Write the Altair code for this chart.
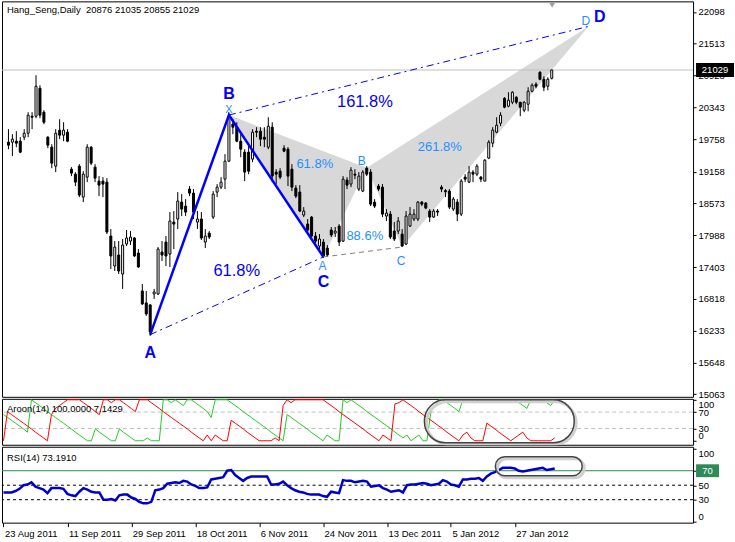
import altair as alt
import pandas as pd
import numpy as np

# ---------------- data ----------------
date_ticks = [0, 16, 32, 48, 64, 80, 96, 112, 128]
date_labels = ["23 Aug 2011", "11 Sep 2011", "29 Sep 2011", "18 Oct 2011", "6 Nov 2011",
               "24 Nov 2011", "13 Dec 2011", "5 Jan 2012", "27 Jan 2012"]
price_ticks = [15063, 15648, 16233, 16818, 17403, 17988, 18573, 19158, 19758,
               20343, 20928, 21513, 22098]
aroon_ticks = [0, 30, 70, 100]
rsi_ticks = [0, 30, 50, 70, 100]
last_price = 21029

opens = [19701,19701,19719,19719,19793,19866,20179,20179,20693,20252,
         19793,19609,19260,19922,19830,19885,19205,19113,19260,18691,
         19058,19609,19242,18985,18985,18966,17974,17423,17625,17276,
         17827,17882,17938,17662,16964,16744,16707,16909,16909,17680,
         17864,17644,18231,18287,18599,18525,18838,18764,18231,18287,
         17864,18029,18323,18783,18874,19021,19352,20032,19977,19719,
         19517,19517,19389,19903,19903,19793,19609,19977,19150,19168,
         19591,19572,19205,18856,18783,18360,18195,18323,17974,17791,
         17864,17753,18085,18029,18158,17882,19003,18930,19113,18838,
         18801,19223,19150,18599,18893,18874,18342,18378,18066,18066,
         18011,17827,18158,18287,18287,18599,18581,18434,18323,18434,
         18874,18810,18801,18470,18599,18378,19058,18966,19150,19113,
         19058,18985,19407,19683,19885,20050,20509,20362,20436,20528,
         20436,20289,20399,20638,20767,20987,20858,20730,20876]
highs = [19940,19848,19903,19793,19940,20252,20252,20932,20748,20289,
         19811,19664,19940,20124,20068,19940,19242,19150,19297,19168,
         19664,19628,19297,19077,19058,19040,18103,17882,17882,17919,
         18085,18066,17956,17735,17093,16964,16725,17001,17772,17882,
         17974,18415,18434,18783,18746,18654,18893,18838,18434,18415,
         18103,18066,18801,18930,19058,19481,20252,20124,20068,19848,
         19572,19628,19940,19977,19977,19977,20160,20068,19205,19223,
         19646,19609,19297,18911,18911,18507,18287,18342,18048,18011,
         17919,17809,18140,18140,18195,19077,19058,19242,19205,19150,
         19187,19260,19205,18654,18930,18930,18470,18434,18231,18323,
         18103,18434,18507,18470,18617,18617,18599,18470,18470,18470,
         18911,18838,18838,18691,18654,19021,19113,19260,19187,19297,
         19077,19389,19738,19977,20160,20252,20528,20620,20638,20546,
         20436,20455,20711,20785,20803,21005,20913,20895,21035]
lows = [19572,19444,19609,19499,19738,19793,19940,20142,20142,20032,
        19591,19223,19150,19756,19719,19701,19077,18893,18691,18599,
        18966,19279,18966,18709,18691,18011,17368,17331,17276,17001,
        17791,17809,17589,17390,16707,16505,16137,16817,16891,17515,
        17423,17405,17735,18103,18342,18342,18709,18287,18103,17901,
        17753,17919,18287,18691,18838,18838,19334,19848,19701,19425,
        18985,19113,19334,19793,19628,19609,19572,18966,18930,19021,
        19517,18893,18801,18672,18415,18323,18048,17956,17846,17735,
        17570,17589,17956,17956,17791,17864,18838,18874,19021,18801,
        18783,19077,18525,18489,18801,18323,18250,17919,17882,18011,
        17772,17809,18140,18250,18250,18525,18470,18231,18305,18342,
        18783,18691,18470,18434,18250,18342,18966,18948,18966,19077,
        18966,18985,19389,19609,19866,19995,20325,20344,20399,20399,
        20179,20252,20270,20620,20693,20840,20638,20656,20855]
closes = [19646,19756,19683,19517,19866,20197,20160,20730,20197,20068,
          19646,19315,19866,19830,19922,19719,19132,18966,18728,19113,
          19609,19315,19040,18911,18930,18048,17607,17772,17331,17809,
          17938,17956,17607,17405,16725,16541,16211,16946,17735,17625,
          17607,18250,18195,18617,18470,18415,18764,18415,18287,17938,
          17974,17956,18746,18874,18966,19352,20179,19977,19719,19572,
          19150,19168,19885,19885,19756,19756,19995,19077,19113,19058,
          19536,19077,18874,18709,18434,18434,18085,17974,17882,17919,
          17607,17625,17993,18066,17864,19021,18911,19187,19095,19077,
          19150,19113,18562,18525,18838,18378,18397,17956,17919,18250,
          17791,18342,18378,18378,18599,18562,18489,18323,18434,18415,
          18838,18790,18507,18654,18378,18985,19021,19150,19113,19260,
          19021,19370,19701,19922,20013,20197,20344,20473,20620,20436,
          20344,20436,20638,20748,20730,20858,20711,20858,21029]

aroon_up = [64,57,50,43,36,29,21,100,93,86,
            79,71,64,57,50,43,36,29,21,14,
            7,0,0,29,21,14,7,0,0,29,
            21,14,7,0,0,0,7,0,0,0,
            100,100,93,100,93,86,100,100,93,86,
            79,71,57,100,100,100,100,93,86,79,
            71,64,57,50,43,36,29,21,14,7,
            0,64,57,50,43,36,29,21,14,7,
            0,14,7,0,0,100,93,100,93,86,
            79,71,64,57,50,43,36,29,21,14,
            7,14,0,7,14,0,0,71,86,100,
            100,93,86,79,71,100,100,100,93,100,
            100,100,100,100,100,100,100,100,100,93,
            86,79,100,100,100,100,93,86,100]
aroon_down = [0,71,64,57,50,43,36,29,21,14,
              7,0,64,79,86,93,100,100,100,100,
              93,86,79,71,64,100,100,93,100,100,
              93,86,79,71,100,100,100,93,86,79,
              71,64,57,50,43,36,29,21,14,7,
              0,14,0,14,7,0,0,50,43,36,
              29,21,14,7,0,0,0,0,7,0,
              86,100,93,100,100,100,100,100,100,100,
              100,93,86,79,71,64,57,50,43,36,
              29,21,14,7,0,14,7,0,90,93,
              100,93,86,79,71,64,57,50,43,36,
              29,21,14,7,0,14,21,7,0,0,
              0,43,36,29,21,14,7,0,7,14,
              21,7,0,0,0,0,0,0,7.1429]
rsi = [40,40,40,42,45,50,51,54,48,46,
       44,39,46,46,46,45,38,36,35,41,
       46,44,41,40,40,30,30,31,29,36,
       37,37,33,31,27,25,25,27,43,44,
       46,52,53,54,53,56,55,51,49,46,
       46,47,58,59,60,61,70,71,64,60,
       56,60,62,62,62,62,62,51,51,52,
       55,50,46,43,41,40,38,37,37,37,
       35,34,41,40,39,57,56,56,54,55,
       56,55,48,49,50,46,44,41,42,43,
       40,50,51,51,52,53,52,50,51,52,
       57,55,51,50,48,58,58,59,59,60,
       56,62,66,68,71,74,74,74,73,70,
       69,70,71,72,73,74,71,72,73.191]

# harmonic pattern points (bar index, price)
abcd_names = ["A", "B", "C", "D"]
abcd_bar = [36, 56, 80, 147.4]
abcd_price = [16160, 20200, 17590, 21832]
xabcd_names = ["X", "A", "B", "C", "D"]
xabcd_bar = [56, 80, 91, 100, 147.4]
xabcd_price = [20200, 17590, 19230, 17772, 21832]

# ---------------- styling ----------------
FONT = "Liberation Sans"
FS = 9.5
W = 692
XS = alt.Scale(domain=[-0.375, 172.625], nice=False, zero=False)
YS = alt.Scale(domain=[15016.7, 22291.3], nice=False, zero=False)
AS = alt.Scale(domain=[-9.76, 102.4], nice=False, zero=False)
RS = alt.Scale(domain=[-1.72, 103.1], nice=False, zero=False)
BLUE = "#0000ff"
LBLUE = "#1e90ff"


def xk(field="k"):
    return alt.X(f"{field}:Q", scale=XS, axis=None)


def yax(ticks, flush=False):
    kw = dict(orient="right", values=ticks, title=None, grid=False, domain=False,
              tickSize=3, labelPadding=2, labelFont=FONT, labelFontSize=FS,
              labelColor="black", tickColor="black", format="d", labelOverlap=False)
    if flush:
        kw["labelFlush"] = 5
    return alt.Axis(**kw)


PAX = yax(price_ticks)
AAX = yax(aroon_ticks, True)
RAX = yax(rsi_ticks, True)


def ym(field):
    return alt.Y(f"{field}:Q", scale=YS, axis=PAX, stack=None)


# ---------------- main panel ----------------
cd = pd.DataFrame({"k": range(len(opens)), "o": opens, "h": highs, "l": lows, "c": closes})
cd["lo"] = cd[["o", "c"]].min(axis=1)
cd["hi"] = cd[["o", "c"]].max(axis=1)
cd["dir"] = np.where(cd["c"] >= cd["o"], "bull", "bear")


def tri(i0, i1, i2, name):
    x0, x1, x2 = xabcd_bar[i0], xabcd_bar[i1], xabcd_bar[i2]
    y0, y1, y2 = xabcd_price[i0], xabcd_price[i1], xabcd_price[i2]
    mid = y0 + (y2 - y0) * (x1 - x0) / (x2 - x0)
    return pd.DataFrame({"k": [x0, x1, x2], "lo": [y0, y1, y2], "hi": [y0, mid, y2], "tri": name})


tris = pd.concat([tri(0, 1, 2, "t1"), tri(2, 3, 4, "t2")])
shade = alt.Chart(tris).mark_area(color="#d8d8d8", opacity=1, interpolate="linear").encode(
    x=xk(), y=ym("lo"), y2="hi:Q", detail="tri:N")

price_line = alt.Chart(pd.DataFrame({"p": [last_price]})).mark_rule(color="#c0c0c0", strokeWidth=1).encode(
    y=ym("p"))

wicks = alt.Chart(cd).mark_rule(color="black", strokeWidth=1).encode(
    x=xk(), y=ym("l"), y2="h:Q")
bodies = alt.Chart(cd).mark_bar(size=2, stroke="black", strokeWidth=1).encode(
    x=xk(), y=ym("lo"), y2="hi:Q",
    color=alt.Color("dir:N", scale=alt.Scale(domain=["bull", "bear"], range=["white", "black"]), legend=None))

abcd = pd.DataFrame({"k": abcd_bar, "p": abcd_price, "n": abcd_names, "i": range(4)})
solid = alt.Chart(abcd.iloc[:3]).mark_line(color=BLUE, strokeWidth=2.5).encode(
    x=xk(), y=ym("p"), order="i:Q")
dd = pd.DataFrame({"k": [abcd_bar[0], abcd_bar[2], abcd_bar[1], abcd_bar[3]],
                   "p": [abcd_price[0], abcd_price[2], abcd_price[1], abcd_price[3]],
                   "seg": ["ac", "ac", "bd", "bd"]})
dashdot = alt.Chart(dd).mark_line(color=BLUE, strokeWidth=1, strokeDash=[7, 4, 2, 4]).encode(
    x=xk(), y=ym("p"), detail="seg:N")
gd = pd.DataFrame({"k": [xabcd_bar[1], xabcd_bar[3]], "p": [xabcd_price[1], xabcd_price[3]]})
graydash = alt.Chart(gd).mark_line(color="#808080", strokeWidth=1, strokeDash=[5, 4]).encode(
    x=xk(), y=ym("p"))


def label(k, p, text, color, size, bold=False, dx=0, dy=0):
    return alt.Chart(pd.DataFrame({"k": [k], "p": [p], "t": [text]})).mark_text(
        color=color, fontSize=size, fontWeight="bold" if bold else "normal", font=FONT,
        dx=dx, dy=dy).encode(x=xk(), y=ym("p"), text="t:N")


def mid(b, p, i, j):
    return (b[i] + b[j]) / 2, (p[i] + p[j]) / 2


labels = [
    label(abcd_bar[0], abcd_price[0], "A", BLUE, 16, True, 0, 18),
    label(abcd_bar[1], abcd_price[1], "B", BLUE, 16, True, 0, -21),
    label(abcd_bar[2], abcd_price[2], "C", BLUE, 16, True, 0, 25),
    label(abcd_bar[3], abcd_price[3], "D", BLUE, 16, True, 11, -9),
    label(*mid(abcd_bar, abcd_price, 0, 2), "61.8%", BLUE, 16.5, False, 0, -25),
    label(*mid(abcd_bar, abcd_price, 1, 3), "161.8%", BLUE, 16.5, False, -44, 31),
    label(xabcd_bar[0], xabcd_price[0], "X", LBLUE, 11, False, 0, -5),
    label(xabcd_bar[1], xabcd_price[1], "A", LBLUE, 12, False, -1, 9),
    label(xabcd_bar[2], xabcd_price[2], "B", LBLUE, 12, False, -5, -7),
    label(xabcd_bar[3], xabcd_price[3], "C", LBLUE, 12, False, -1, 14),
    label(xabcd_bar[4], xabcd_price[4], "D", LBLUE, 12, False, -3, -5),
    label(*mid(xabcd_bar, xabcd_price, 0, 2), "61.8%", LBLUE, 13, False, 17, 23),
    label(*mid(xabcd_bar, xabcd_price, 1, 3), "88.6%", LBLUE, 13, False, 2, -16),
    label(*mid(xabcd_bar, xabcd_price, 2, 4), "261.8%", LBLUE, 13, False, -38, 50),
]

marker = alt.Chart(pd.DataFrame({"k": [138.1], "p": [22220]})).mark_point(
    shape="triangle-down", filled=True, color="#a0a0a0", size=36, opacity=1).encode(
    x=xk(), y=ym("p"))

title = alt.Chart(pd.DataFrame({"t": ["Hang_Seng,Daily\u00a0 20876 21035 20855 21029"]})).mark_text(
    align="left", baseline="middle", font=FONT, fontSize=FS, color="black").encode(
    x=alt.value(5), y=alt.value(9), text="t:N")

tag_df = pd.DataFrame({"p": [last_price], "t": [str(last_price)]})
tag_box = alt.Chart(tag_df).mark_point(
    shape="M-1,-0.37L1,-0.37L1,0.37L-1,0.37Z", size=1444, filled=True, color="black", opacity=1).encode(
    x=alt.value(714), y=ym("p"))
tag_txt = alt.Chart(tag_df).mark_text(color="white", font=FONT, fontSize=FS).encode(
    x=alt.value(714), y=ym("p"), text="t:N")

main = alt.layer(shade, price_line, wicks, bodies, solid, dashdot, graydash, *labels,
                 marker, title, tag_box, tag_txt).properties(width=W, height=396)

# ---------------- Aroon panel ----------------
ad = pd.concat([
    pd.DataFrame({"k": range(len(aroon_up)), "v": aroon_up, "s": "Aroon Up"}),
    pd.DataFrame({"k": range(len(aroon_down)), "v": aroon_down, "s": "Aroon Down"}),
])


def ya(field):
    return alt.Y(f"{field}:Q", scale=AS, axis=AAX)


a_levels = alt.Chart(pd.DataFrame({"v": [30, 70]})).mark_rule(
    color="#c0c0c0", strokeDash=[4, 3], strokeWidth=1).encode(y=ya("v"))
a_lines = alt.Chart(ad).mark_line(strokeWidth=1, interpolate="linear").encode(
    x=xk(), y=ya("v"),
    color=alt.Color("s:N", scale=alt.Scale(domain=["Aroon Up", "Aroon Down"], range=["#22cc22", "#ff0000"]),
                    legend=None))
a_title = alt.Chart(pd.DataFrame({"t": ["Aroon(14) 100.0000 7.1429"]})).mark_text(
    align="left", baseline="middle", font=FONT, fontSize=FS, color="black").encode(
    x=alt.value(5), y=alt.value(10), text="t:N")
a_shadow = alt.Chart(pd.DataFrame({"a": [0]})).mark_rect(
    cornerRadius=21, fillOpacity=0, stroke="#cfcfcf", strokeWidth=3).encode(
    x=alt.value(425), x2=alt.value(575), y=alt.value(3), y2=alt.value(45))
a_ring = alt.Chart(pd.DataFrame({"a": [0]})).mark_rect(
    cornerRadius=21, fillOpacity=0, stroke="#444444", strokeWidth=1.5).encode(
    x=alt.value(423), x2=alt.value(573), y=alt.value(1), y2=alt.value(44))
aroon = alt.layer(a_levels, a_lines, a_title, a_shadow, a_ring).properties(width=W, height=46)

# ---------------- RSI panel ----------------
rd = pd.DataFrame({"k": range(len(rsi)), "v": rsi})
label_expr = "".join(f"datum.value == {t} ? '{l}' : " for t, l in zip(date_ticks, date_labels)) + "''"


def yr(field):
    return alt.Y(f"{field}:Q", scale=RS, axis=RAX)


r_70 = alt.Chart(pd.DataFrame({"v": [70]})).mark_rule(color="#2e8b57", strokeWidth=1).encode(y=yr("v"))
r_lv = alt.Chart(pd.DataFrame({"v": [30, 50]})).mark_rule(
    color="black", strokeDash=[3, 3], strokeWidth=1).encode(y=yr("v"))
r_line = alt.Chart(rd).mark_line(color="#0000cc", strokeWidth=2.5).encode(
    x=alt.X("k:Q", scale=XS, axis=alt.Axis(values=date_ticks, labelExpr=label_expr, title=None,
                                            grid=False, domain=False, tickSize=4, labelPadding=2,
                                            labelAlign="left", labelOffset=1, labelFlush=False,
                                            labelOverlap=False,
                                            labelFont=FONT, labelFontSize=FS, labelColor="black",
                                            tickColor="black")),
    y=yr("v"))
r_title = alt.Chart(pd.DataFrame({"t": ["RSI(14) 73.1910"]})).mark_text(
    align="left", baseline="middle", font=FONT, fontSize=FS, color="black").encode(
    x=alt.value(5), y=alt.value(11), text="t:N")
r_shadow = alt.Chart(pd.DataFrame({"a": [0]})).mark_rect(
    cornerRadius=10, fillOpacity=0, stroke="#cfcfcf", strokeWidth=3).encode(
    x=alt.value(496), x2=alt.value(583), y=alt.value(12), y2=alt.value(31))
r_ring = alt.Chart(pd.DataFrame({"a": [0]})).mark_rect(
    cornerRadius=10, fillOpacity=0, stroke="#444444", strokeWidth=1.5).encode(
    x=alt.value(494), x2=alt.value(581), y=alt.value(10), y2=alt.value(29))
r_box = alt.Chart(pd.DataFrame({"v": [70]})).mark_point(
    shape="M-1,-0.56L1,-0.56L1,0.56L-1,0.56Z", size=529, filled=True, color="#2e8b57", opacity=1).encode(
    x=alt.value(706.5), y=yr("v"))
r_boxt = alt.Chart(pd.DataFrame({"v": [70], "t": ["70"]})).mark_text(
    color="white", font=FONT, fontSize=FS).encode(
    x=alt.value(706.5), y=yr("v"), text="t:N")
rsi_panel = alt.layer(r_70, r_lv, r_line, r_title, r_shadow, r_ring, r_box, r_boxt).properties(
    width=W, height=76)

chart = alt.vconcat(main, aroon, rsi_panel, spacing=2, bounds="flush").resolve_scale(
    color="independent"
).properties(
    padding={"left": -2, "top": 0, "right": 0, "bottom": 0}, background="white"
).configure_view(stroke="black", strokeWidth=1)

chart.save("out.html", embed_options={"renderer": "svg", "actions": False})
